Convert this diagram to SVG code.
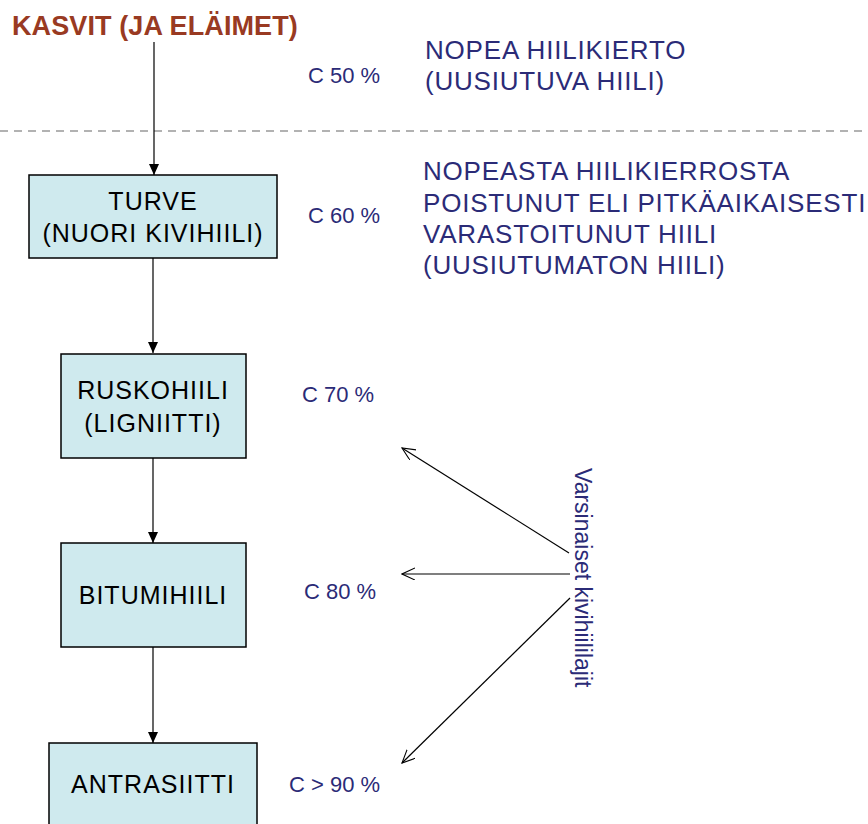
<svg xmlns="http://www.w3.org/2000/svg" width="868" height="824" viewBox="0 0 868 824">
<style>
.box{fill:#cfeaee;stroke:#000;stroke-width:1.5}
.bt{font-family:"Liberation Sans",Arial,sans-serif;font-size:25px;fill:#000;text-anchor:middle;letter-spacing:1px}
.c{font-family:"Liberation Sans",Arial,sans-serif;font-size:22px;fill:#2b2b77}
.rt{font-family:"Liberation Sans",Arial,sans-serif;font-size:26px;fill:#2b2b77;letter-spacing:0.8px}
.ln{stroke:#000;stroke-width:1.2;fill:none}
</style>
<defs>
<marker id="fa" markerWidth="12" markerHeight="12" refX="11" refY="5" orient="auto" markerUnits="userSpaceOnUse">
<path d="M0,0 L11,5 L0,10 Z" fill="#000"/>
</marker>
<marker id="oa" markerWidth="14" markerHeight="14" refX="13" refY="6" orient="auto" markerUnits="userSpaceOnUse">
<path d="M0,0 L13,6 L0,12" fill="none" stroke="#000" stroke-width="1.1"/>
</marker>
</defs>
<rect width="868" height="824" fill="#fff"/>
<g id="title">
<text x="12" y="35" style="font-family:'Liberation Sans',Arial,sans-serif;font-size:27px;font-weight:bold;fill:#993a22;letter-spacing:0.1px">KASVIT (JA ELÄIMET)</text>
</g>
<line x1="0" y1="131" x2="868" y2="131" stroke="#666" stroke-width="1.2" stroke-dasharray="8,6"/>
<g id="connectors">
<line class="ln" x1="154" y1="42" x2="154" y2="175" marker-end="url(#fa)"/>
<line class="ln" x1="153" y1="258" x2="153" y2="353" marker-end="url(#fa)"/>
<line class="ln" x1="153" y1="458" x2="153" y2="543" marker-end="url(#fa)"/>
<line class="ln" x1="153" y1="647" x2="153" y2="743" marker-end="url(#fa)"/>
<line class="ln" x1="569" y1="553" x2="402" y2="448" marker-end="url(#oa)"/>
<line class="ln" x1="570" y1="574" x2="402" y2="574" marker-end="url(#oa)"/>
<line class="ln" x1="570" y1="598" x2="402" y2="763" marker-end="url(#oa)"/>
</g>
<g id="turve">
<rect class="box" x="29" y="175" width="248" height="83"/>
<text class="bt" x="153" y="210">TURVE</text>
<text class="bt" x="153" y="242">(NUORI KIVIHIILI)</text>
</g>
<g id="ruskohiili">
<rect class="box" x="61" y="354" width="185" height="104"/>
<text class="bt" x="153" y="399">RUSKOHIILI</text>
<text class="bt" x="153" y="432">(LIGNIITTI)</text>
</g>
<g id="bitumihiili">
<rect class="box" x="61" y="543" width="185" height="104"/>
<text class="bt" x="153" y="604">BITUMIHIILI</text>
</g>
<g id="antrasiitti">
<rect class="box" x="49" y="743" width="208" height="100"/>
<text class="bt" x="153" y="793">ANTRASIITTI</text>
</g>
<g id="labels">
<text class="c" x="308" y="83">C 50 %</text>
<text class="c" x="308" y="223">C 60 %</text>
<text class="c" x="302" y="402">C 70 %</text>
<text class="c" x="304" y="599">C 80 %</text>
<text class="c" x="289" y="792">C &gt; 90 %</text>
</g>
<g id="fast">
<text class="rt" x="425" y="59">NOPEA HIILIKIERTO</text>
<text class="rt" x="425" y="90">(UUSIUTUVA HIILI)</text>
</g>
<g id="slow">
<text class="rt" x="423" y="180">NOPEASTA HIILIKIERROSTA</text>
<text class="rt" x="423" y="212">POISTUNUT ELI PITKÄAIKAISESTI</text>
<text class="rt" x="423" y="243">VARASTOITUNUT HIILI</text>
<text class="rt" x="423" y="274">(UUSIUTUMATON HIILI)</text>
</g>
<g id="vertical">
<text class="c" transform="translate(575,468) rotate(90)" x="0" y="0" style="font-size:23px">Varsinaiset kivihiililajit</text>
</g>
</svg>
